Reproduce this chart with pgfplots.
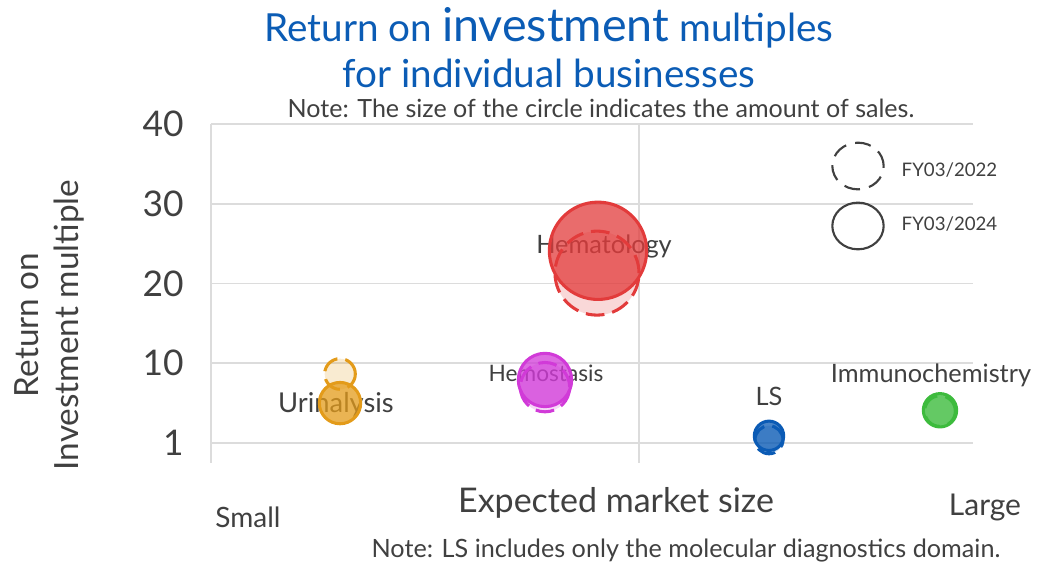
\documentclass[border=0pt]{standalone}
\usepackage{fontspec}
\setmainfont{Lato}
\usepackage{pgfplots}
\pgfplotsset{compat=1.18}
\definecolor{titleblue}{HTML}{0B5CB5}
\definecolor{txt}{HTML}{404040}
\definecolor{gridc}{HTML}{DCDCDC}
\definecolor{cHema}{HTML}{E23B3B}
\definecolor{cHemo}{HTML}{D13AD8}
\definecolor{cUri}{HTML}{E39B1A}
\definecolor{cLS}{HTML}{0B5BB5}
\definecolor{cImm}{HTML}{3DBB3D}
\newcommand{\fs}[1]{\fontsize{#1}{#1}\selectfont}
\pgfplotsset{
  old/.style={only marks, mark=*, forget plot, mark options={draw=#1, fill=#1, fill opacity=0.2, line width=2.3pt, dash pattern=on 14pt off 6pt}},
  new/.style={only marks, mark=*, forget plot, mark options={draw=#1, fill=#1, fill opacity=0.75, line width=2.3pt, solid}},
}
\begin{document}
\begin{tikzpicture}
\useasboundingbox (-158.25pt,-77.25pt) rectangle (635.25pt,347.25pt);
\begin{axis}[
  at={(0,0)}, anchor=south west, scale only axis,
  width=571.5pt, height=254.25pt,
  xmin=211, xmax=973, ymin=-2.51, ymax=40,
  clip=false,
  axis line style={draw=none},
  major tick length=0pt,
  xtick={211,639}, xticklabels={},
  ytick={0,10,20,30,40}, yticklabels={1,10,20,30,40},
  xmajorgrids, ymajorgrids,
  grid style={draw=gridc, line width=1.2pt},
  yticklabel style={font=\fs{26.5}, text=txt, anchor=east, xshift=-17pt},
]
% FY03/2022 (dashed)
\addplot[old=cHema, mark size=31.5pt] coordinates {(597,21.3)};
\addplot[old=cHemo, mark size=18.5pt] coordinates {(545,7.0)};
\addplot[old=cUri, mark size=11.5pt] coordinates {(340,8.65)};
\addplot[old=cLS, mark size=10.5pt] coordinates {(769,0.4)};
\addplot[old=cImm, mark size=11.5pt] coordinates {(940,4.0)};
% FY03/2024 (solid)
\addplot[new=cHema, mark size=36.5pt] coordinates {(598,24.1)};
\addplot[new=cHemo, mark size=20pt] coordinates {(545,7.9)};
\addplot[new=cUri, mark size=15.5pt] coordinates {(340,5.0)};
\addplot[new=cLS, mark size=11pt] coordinates {(769,0.9)};
\addplot[new=cImm, mark size=12.5pt] coordinates {(940,4.1)};
% legend symbols
\addplot[only marks, mark=o, forget plot, mark size=17.5pt, mark options={xscale=1.1, draw=txt, line width=1.6pt, dash pattern=on 12pt off 7pt}] coordinates {(858,34.73)};
\addplot[only marks, mark=o, forget plot, mark size=17.5pt, mark options={xscale=1.1, draw=txt, line width=1.6pt, solid}] coordinates {(858,27.21)};
% texts
\node[text=txt, anchor=west, font=\fs{14}] at (axis cs:897,34.23) {FY03/2022};
\node[text=txt, anchor=west, font=\fs{14}] at (axis cs:897,27.46) {FY03/2024};
\node[text=txt, font=\fs{19}] at (axis cs:604,24.70) {Hematology};
\node[text=txt, font=\fs{17}] at (axis cs:546,8.78) {Hemostasis};
\node[text=txt, font=\fs{20.5}] at (axis cs:336,4.76) {Urinalysis};
\node[text=txt, font=\fs{19}] at (axis cs:769,5.89) {LS};
\node[text=txt, font=\fs{19}] at (axis cs:931,8.53) {Immunochemistry};
\node[text=titleblue, font=\fs{29}] at (axis cs:549,52.04) {Return on {\fs{35}investment} multiples};
\node[text=titleblue, font=\fs{29}] at (axis cs:549,46.39) {for individual businesses};
\node[text=txt, font=\fs{18.8}] at (axis cs:601,42.0) {Note: The size of the circle indicates the amount of sales.};
\node[text=txt, font=\fs{25.5}] at (axis cs:616,-7.52) {Expected market size};
\node[text=txt, font=\fs{21}] at (axis cs:248,-9.28) {Small};
\node[text=txt, font=\fs{22.5}] at (axis cs:985,-8.03) {Large};
\node[text=txt, font=\fs{18.9}] at (axis cs:686,-13.54) {Note: LS includes only the molecular diagnostics domain.};
\node[text=txt, font=\fs{25}, rotate=90, align=center, inner sep=0pt] at (axis cs:49,14.8) {Return on\\[5pt]Investment multiple};
\end{axis}
\end{tikzpicture}
\end{document}
